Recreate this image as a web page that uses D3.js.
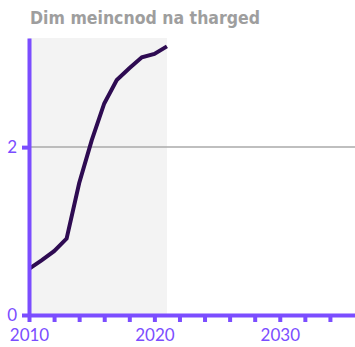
<!DOCTYPE html>
<html>
<head>
<meta charset="utf-8">
<script src="https://cdn.jsdelivr.net/npm/d3@7"></script>
<style>
  html, body { margin: 0; padding: 0; background: #fff; }
  svg { display: block; }
</style>
</head>
<body>
<svg id="chart" width="355" height="347"></svg>
<script>
// Series: yearly values
const years = [2010, 2011, 2012, 2013, 2014, 2015, 2016, 2017, 2018, 2019, 2020, 2021];
const values = [0.55, 0.65, 0.76, 0.91, 1.57, 2.08, 2.52, 2.8, 2.94, 3.07, 3.11, 3.2];

// Axes
const xTicks = [2010, 2012, 2014, 2016, 2018, 2020, 2022, 2024, 2026, 2028, 2030, 2032, 2034];
const xTickLabels = { 2010: "2010", 2020: "2020", 2030: "2030" };
const yTicks = [0, 2];
const xDomain = [2010, 2036];
const yDomain = [0, 3.3];
const shadeRange = [2010, 2021];

const title = "Dim meincnod na tharged";

const W = 355, H = 347;
const margin = { top: 38, right: 0, bottom: 32, left: 29 };

const purple = "#7b4dff";
const labelFont = "Lato, 'Noto Sans', sans-serif";
const svg = d3.select("#chart");

const x = d3.scaleLinear().domain(xDomain).range([margin.left, W - margin.right]);
const y = d3.scaleLinear().domain(yDomain).range([H - margin.bottom, margin.top]);

// Shaded period
svg.append("rect")
  .attr("x", x(shadeRange[0]))
  .attr("y", y(yDomain[1]))
  .attr("width", x(shadeRange[1]) - x(shadeRange[0]))
  .attr("height", y(0) - y(yDomain[1]))
  .attr("fill", "#f3f3f3");

// Gridline at non-zero y ticks
svg.append("g")
  .selectAll("line")
  .data(yTicks.filter(d => d !== 0))
  .join("line")
  .attr("x1", x(xDomain[0]))
  .attr("x2", x(xDomain[1]))
  .attr("y1", d => y(d))
  .attr("y2", d => y(d))
  .attr("stroke", "#aaaaaa")
  .attr("stroke-width", 1.5);

// Line
const line = d3.line()
  .x((d, i) => x(years[i]))
  .y(d => y(d));

svg.append("path")
  .datum(values)
  .attr("d", line)
  .attr("fill", "none")
  .attr("stroke", "#2e0b52")
  .attr("stroke-width", 4)
  .attr("stroke-linejoin", "miter");

// X axis
const xAxis = d3.axisBottom(x)
  .tickValues(xTicks)
  .tickSize(7)
  .tickSizeOuter(0)
  .tickPadding(7)
  .tickFormat(d => xTickLabels[d] || "");

const gx = svg.append("g")
  .attr("transform", `translate(0,${y(0)})`)
  .call(xAxis);
gx.select(".domain").attr("stroke", purple).attr("stroke-width", 4);
gx.selectAll(".tick line").attr("stroke", purple).attr("stroke-width", 4);
gx.selectAll(".tick text")
  .attr("fill", purple)
  .attr("font-family", labelFont)
  .attr("font-weight", 400)
  .attr("font-size", 17);

// Y axis
const yAxis = d3.axisLeft(y)
  .tickValues(yTicks)
  .tickSize(7)
  .tickSizeOuter(0)
  .tickPadding(5)
  .tickFormat(d3.format("d"));

const gy = svg.append("g")
  .attr("transform", `translate(${x(xDomain[0])},0)`)
  .call(yAxis);
gy.select(".domain").attr("stroke", purple).attr("stroke-width", 4);
gy.selectAll(".tick line").attr("stroke", purple).attr("stroke-width", 4);
gy.selectAll(".tick text")
  .attr("fill", purple)
  .attr("font-family", labelFont)
  .attr("font-weight", 400)
  .attr("font-size", 17);

// Title
svg.append("text")
  .attr("x", 30)
  .attr("y", 23.5)
  .attr("fill", "#9e9e9e")
  .attr("font-family", "'DejaVu Sans', sans-serif")
  .attr("font-weight", "bold")
  .attr("font-size", 17.5)
  .attr("textLength", 230)
  .attr("lengthAdjust", "spacingAndGlyphs")
  .text(title);
</script>
</body>
</html>
